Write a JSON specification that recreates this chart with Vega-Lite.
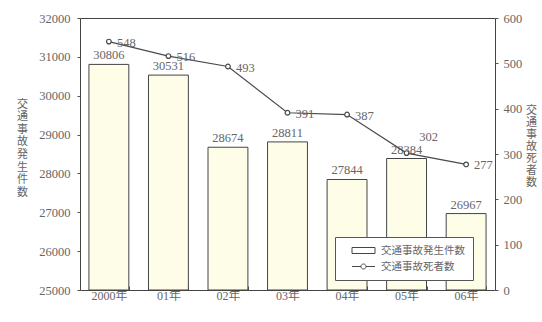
{
  "$schema": "https://vega.github.io/schema/vega-lite/v6.json",
  "width": 415,
  "height": 272,
  "autosize": {"type": "none"},
  "padding": {"left": 80, "top": 18, "right": 47, "bottom": 32},
  "background": "white",
  "config": {
    "font": "Liberation Serif, Noto Sans CJK JP",
    "view": {"stroke": "#444", "strokeWidth": 1},
    "axis": {
      "labelFont": "Liberation Serif, Noto Sans CJK JP",
      "labelColor": "#666",
      "labelFontSize": 12.5,
      "titleFont": "Noto Sans CJK JP",
      "titleColor": "#666",
      "titleFontSize": 11,
      "titleFontWeight": "normal",
      "grid": false,
      "domain": false,
      "tickColor": "#555"
    },
    "legend": {
      "orient": "none",
      "legendX": 255,
      "legendY": 219,
      "padding": 8,
      "strokeColor": "#555",
      "fillColor": "white",
      "symbolOffset": 15,
      "labelOffset": 12,
      "rowPadding": 5,
      "labelFont": "Noto Sans CJK JP",
      "labelFontSize": 10.5,
      "labelColor": "#666",
      "symbolSize": 100,
      "symbolStrokeWidth": 1
    }
  },
  "data": {
    "values": [
      {"year": "2000年", "cases": 30806, "deaths": 548},
      {"year": "01年", "cases": 30531, "deaths": 516},
      {"year": "02年", "cases": 28674, "deaths": 493},
      {"year": "03年", "cases": 28811, "deaths": 391},
      {"year": "04年", "cases": 27844, "deaths": 387},
      {"year": "05年", "cases": 28384, "deaths": 302},
      {"year": "06年", "cases": 26967, "deaths": 277}
    ]
  },
  "encoding": {
    "x": {
      "field": "year",
      "type": "nominal",
      "sort": null,
      "scale": {"paddingInner": 0.33, "paddingOuter": 0.15},
      "axis": {"title": null, "labelAngle": 0, "labelPadding": 4, "tickBand": "extent", "tickSize": -4, "labelFontSize": 12}
    }
  },
  "layer": [
    {
      "encoding": {
        "y": {
          "field": "cases",
          "type": "quantitative",
          "scale": {"domain": [25000, 32000], "zero": false, "nice": false},
          "axis": {
            "title": ["交", "通", "事", "故", "発", "生", "件", "数"],
            "titleAngle": 0,
            "titleAlign": "center",
            "titleBaseline": "top",
            "titleX": -58,
            "titleY": 80,
            "titleLineHeight": 12.6,
            "values": [25000, 26000, 27000, 28000, 29000, 30000, 31000, 32000],
            "format": "d",
            "tickSize": 3,
            "labelPadding": 7
          }
        }
      },
      "layer": [
        {
          "mark": {"type": "bar", "fill": "#fdfde8", "strokeWidth": 1},
          "encoding": {
            "y2": {"datum": 25000},
            "stroke": {
              "datum": "交通事故発生件数",
              "scale": {"domain": ["交通事故発生件数", "交通事故死者数"], "range": ["#444444", "#4a4a4a"]},
              "legend": {
                "title": null,
                "labelExpr": "datum.label + '\u3000\u3000'",
                "encode": {
                  "symbols": {
                    "update": {
                      "shape": {"signal": "datum.value === '交通事故死者数' ? 'M-2.3,0H-0.5M0.5,0H2.3M0.5,0A0.5,0.5 0 1,1 -0.5,0A0.5,0.5 0 1,1 0.5,0' : 'M-2.3,-0.6H2.3V0.6H-2.3Z'"},
                      "fill": {"value": "white"},
                      "fillOpacity": {"signal": "datum.value === '交通事故死者数' ? 0 : 1"},
                      "strokeOpacity": {"value": 1},
                      "strokeWidth": {"value": 1},
                      "opacity": {"value": 1}
                    }
                  }
                }
              }
            }
          }
        },
        {
          "mark": {"type": "text", "dy": -9, "fontSize": 12.5, "color": "#666", "font": "Liberation Serif"},
          "encoding": {
            "text": {"field": "cases", "type": "quantitative", "format": "d"}
          }
        }
      ]
    },
    {
      "encoding": {
        "y": {
          "field": "deaths",
          "type": "quantitative",
          "scale": {"domain": [0, 600], "nice": false},
          "axis": {
            "title": ["交", "通", "事", "故", "死", "者", "数"],
            "titleAngle": 0,
            "titleAlign": "center",
            "titleBaseline": "top",
            "titleX": 36,
            "titleY": 86,
            "titleLineHeight": 12,
            "titleColor": "#666",
            "labelColor": "#666",
            "values": [0, 100, 200, 300, 400, 500, 600],
            "tickSize": 3,
            "labelPadding": 5
          }
        }
      },
      "layer": [
        {
          "mark": {"type": "line", "strokeWidth": 1.2},
          "encoding": {
            "stroke": {
              "datum": "交通事故死者数",
              "legend": {
                "title": null,
                "labelExpr": "datum.label + '\u3000\u3000'",
                "encode": {
                  "symbols": {
                    "update": {
                      "shape": {"signal": "datum.value === '交通事故死者数' ? 'M-2.3,0H-0.5M0.5,0H2.3M0.5,0A0.5,0.5 0 1,1 -0.5,0A0.5,0.5 0 1,1 0.5,0' : 'M-2.3,-0.6H2.3V0.6H-2.3Z'"},
                      "fill": {"value": "white"},
                      "fillOpacity": {"signal": "datum.value === '交通事故死者数' ? 0 : 1"},
                      "strokeOpacity": {"value": 1},
                      "strokeWidth": {"value": 1},
                      "opacity": {"value": 1}
                    }
                  }
                }
              }
            }
          }
        },
        {
          "mark": {"type": "point", "filled": false, "fill": "white", "fillOpacity": 1, "stroke": "#4a4a4a", "size": 22, "strokeWidth": 1.2, "opacity": 1}
        },
        {
          "transform": [{"filter": "datum.year !== '05年'"}],
          "mark": {"type": "text", "align": "left", "dx": 8, "dy": 1, "fontSize": 12.5, "color": "#666", "font": "Liberation Serif"},
          "encoding": {
            "text": {"field": "deaths", "type": "quantitative"}
          }
        },
        {
          "transform": [{"filter": "datum.year === '05年'"}],
          "mark": {"type": "text", "align": "center", "dx": 22, "dy": -16, "fontSize": 12.5, "color": "#666", "font": "Liberation Serif"},
          "encoding": {
            "text": {"field": "deaths", "type": "quantitative"}
          }
        }
      ]
    }
  ],
  "resolve": {"scale": {"y": "independent"}}
}
